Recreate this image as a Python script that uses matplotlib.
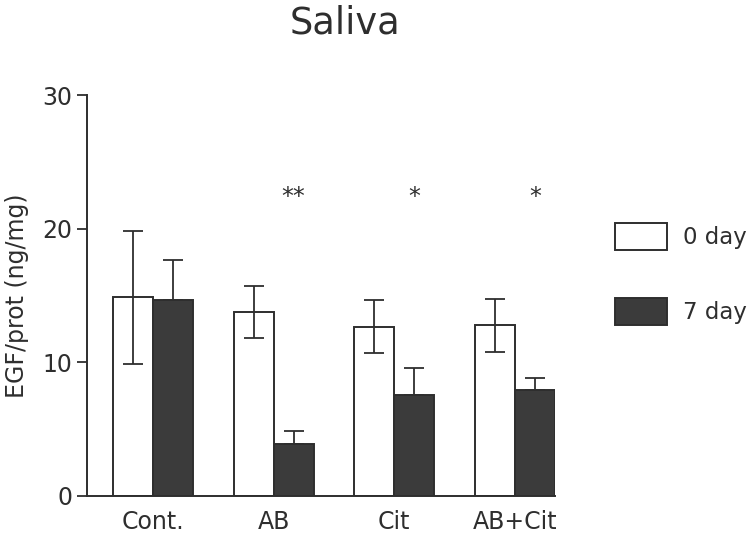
import numpy as np
import matplotlib
matplotlib.use('Agg')
import matplotlib.pyplot as plt
from matplotlib.patches import Patch

plt.rcParams['font.family'] = ['DejaVu Sans']

# Datos: EGF/prot en saliva
grupos = ['Cont.', 'AB', 'Cit', 'AB+Cit']
dia0 = [14.85, 13.75, 12.65, 12.75]
dia0_err = [5.0, 1.97, 1.98, 2.0]
dia7 = [14.65, 3.85, 7.54, 7.89]
dia7_err = [3.0, 1.0, 2.0, 0.95]
signif = ['', '**', '*', '*']
signif_y = 22.4

tinta = '#2e2e2e'
oscuro = '#3b3b3b'

fig = plt.figure(figsize=(7.52, 5.34), dpi=100)
ax = fig.add_axes([0.1157, 0.0718, 0.622, 0.750])

x = np.arange(len(grupos))
ancho = 0.332

ax.bar(x - ancho / 2, dia0, ancho, color='white', edgecolor=tinta, linewidth=1.4, zorder=2)
ax.bar(x + ancho / 2, dia7, ancho, color=oscuro, edgecolor=tinta, linewidth=1.4, zorder=2)
ax.errorbar(x - ancho / 2, dia0, yerr=dia0_err, fmt='none', ecolor=tinta,
            elinewidth=1.3, capsize=7, capthick=1.3, zorder=3)
ax.errorbar(x + ancho / 2, dia7, yerr=[np.zeros(len(dia7)), dia7_err], fmt='none',
            ecolor=tinta, elinewidth=1.3, capsize=7, capthick=1.3, zorder=3)

for xi, s in zip(x, signif):
    if s:
        ax.text(xi + ancho / 2, signif_y, s, ha='center', va='center',
                fontsize=17, color=tinta)

ax.set_xlim(-0.548, 3.332)
ax.set_ylim(0, 30)
ax.set_yticks([0, 10, 20, 30])
ax.set_xticks(x)
ax.set_xticklabels(grupos)
ax.tick_params(axis='x', length=0, pad=10, labelsize=17, colors=tinta)
ax.tick_params(axis='y', length=7, width=1.3, pad=3.5, labelsize=17, colors=tinta)
for lado in ['top', 'right']:
    ax.spines[lado].set_visible(False)
for lado in ['left', 'bottom']:
    ax.spines[lado].set_linewidth(1.4)
    ax.spines[lado].set_color(tinta)

ax.set_ylabel('EGF/prot (ng/mg)', fontsize=17, color=tinta, labelpad=10)
fig.text(0.459, 0.956, 'Saliva', ha='center', va='center', fontsize=26.5, color=tinta)

handles = [Patch(facecolor='white', edgecolor=tinta, linewidth=1.4),
           Patch(facecolor=oscuro, edgecolor=tinta, linewidth=1.4)]
fig.legend(handles, ['0 day', '7 day'], loc='upper left',
           bbox_to_anchor=(0.818, 0.582), frameon=False, fontsize=16.5,
           handlelength=2.27, handleheight=1.43, labelspacing=2.08,
           handletextpad=0.7, borderpad=0, borderaxespad=0, labelcolor=tinta)

fig.savefig('out.png', dpi=100)
